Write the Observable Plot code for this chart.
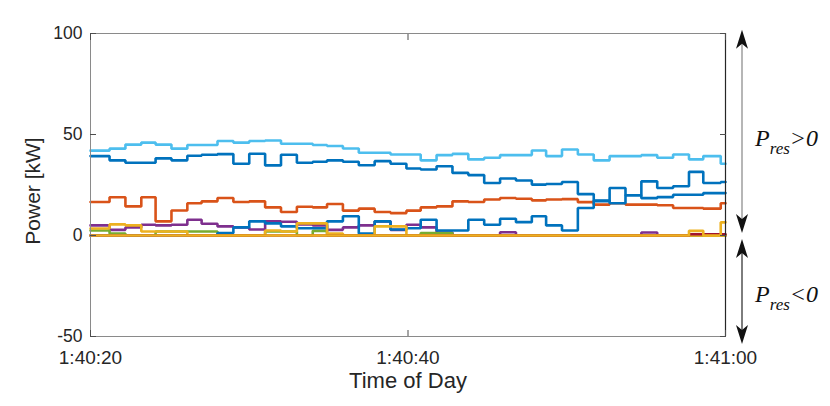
<!DOCTYPE html>
<html>
<head>
<meta charset="utf-8">
<script src="https://cdn.jsdelivr.net/npm/d3@7"></script>
<script src="https://cdn.jsdelivr.net/npm/@observablehq/plot@0.6"></script>
<style>
  body { margin: 0; background: #fff; }
  #chart svg { overflow: visible; }
</style>
</head>
<body>
<div id="chart"></div>
<script>
// Step start times (seconds after 1:40:20)
const stepSeconds = [0, 1.2, 2.2, 3.2, 4.1, 5.1, 6.1, 7.0, 8.0, 9.0, 10.0, 11.0, 12.0, 13.0, 14.0,
  14.9, 15.9, 16.9, 17.9, 18.9, 19.9, 20.8, 21.8, 22.8, 23.8, 24.8, 25.8, 26.8, 27.8, 28.7,
  29.7, 30.7, 31.7, 32.7, 33.7, 34.7, 35.7, 36.7, 37.7, 38.6, 39.7];
const endSecond = 40;

// Power values [kW] per step
const blue1 = [39.3, 37.2, 36, 36, 38.2, 37.2, 39.5, 40, 40.3, 35.5, 40.5, 34.7, 40, 36, 36.5,
  37.2, 36.5, 34.8, 36.8, 35.5, 33.2, 32.7, 34.3, 31, 29.9, 26, 28.2, 27.2, 25.2, 25.5,
  26.5, 20.5, 17, 23.5, 19.9, 26.8, 23.5, 24.4, 31.5, 26, 26.5];
const orange = [16.6, 18.9, 14.4, 18.9, 7, 12.4, 16, 16.9, 18.6, 16.6, 16.9, 13.9, 11.6, 14.2, 13.9,
  15.6, 12.3, 13.3, 11.6, 11.1, 12.3, 13.9, 14.4, 16.9, 16.6, 17.8, 18.6, 18.2, 17.4, 17.8,
  18, 16.5, 15.3, 16, 15.3, 15.3, 15, 13.6, 13.6, 13.3, 16];
const yellowA = [3.5, 5.5, 5, 2, 2, 2, 0, 0, 0, 0, 0, 2.5, 2, 6, 6,
  1, 0, 0, 4.5, 4.5, 0, 0, 0, 0, 0, 0, 0, 0, 0, 0,
  0, 0, 0, 0, 0, 0, 0, 0, 0, 0, 0];
const purple = [5, 2.8, 4, 5.3, 5, 5.3, 7.8, 5.8, 4.5, 4, 3, 7, 6.8, 5.5, 5,
  2.8, 4, 5, 7, 2.8, 5.3, 4, 1.5, 0, 0, 0, 1.6, 0, 0, 0,
  0, 0, 0, 0, 0, 1.5, 0, 0, 0, 0, 0];
const green = [2.5, 1, 0, 0, 2, 2, 2, 2, 0, 0, 0, 2, 2, 0, 2.3,
  0, 0, 0, 0, 0, 0, 1.2, 1.2, 0, 0, 0, 0, 0, 0, 0,
  0, 0, 0, 0, 0, 0, 0, 0, 0, 0, 0];
const lightBlue = [42, 43, 45, 46, 45, 43, 44.8, 44.8, 46.8, 46, 46.8, 47, 45.4, 45.4, 44.8,
  44.3, 43.1, 41, 41, 40.1, 40.1, 37.2, 39.8, 40.4, 37.7, 38.5, 39.8, 39.8, 42.1, 39.3,
  42.6, 40.1, 37.2, 39.3, 39.3, 39.8, 38.5, 40.1, 37.7, 39.3, 35.5];
const darkRed = [0, 0, 0, 0, 0, 0, 0, 0, 0, 0, 0, 0, 0, 0, 0,
  0, 0, 0, 0, 0, 0, 0, 0, 0, 0, 0, 0, 0, 0, 0,
  0, 0, 0, 0, 0, 0, 0, 0, 0.6, 0.6, 0.6];
const blue2 = [0, 0, 0, 0, 0, 0, 0, 0, 1.2, 4, 7, 6, 4.5, 3.6, 3.6,
  7, 9.5, 1, 7, 3, 3.6, 7.8, 2.5, 2.5, 7.8, 5.3, 8.3, 6.6, 9.5, 5,
  2.5, 13.6, 17.3, 16, 19.9, 18.5, 19, 20.2, 20.2, 21, 21];
const yellowB = [0, 0, 0, 0, 0, 0, 0, 0, 0, 0, 0, 0, 0, 0, 0,
  0, 0, 0, 0, 0, 0, 0, 0, 0, 0, 0, 0, 0, 0, 0,
  0, 0, 0, 0, 0, 0, 0, 0, 2.3, 0, 6.5];

// Axis ticks
const xTickSeconds = [0, 20, 40];
const xTickLabels = ["1:40:20", "1:40:40", "1:41:00"];
const yTicks = [-50, 0, 50, 100];
const yTickLabels = ["-50", "0", "50", "100"];
const yDomain = [-50, 100];

// Annotations (value ranges of the double arrows, label positions)
const arrowSpans = [[101.6, 1], [-2, -54]];
const arrowLabels = [{value: 44, op: ">0"}, {value: -33, op: "<0"}];

const t0 = Date.UTC(2000, 0, 1, 1, 40, 20);
const at = s => new Date(t0 + s * 1000);

function rows(values) {
  const r = stepSeconds.map((s, i) => ({t: at(s), v: values[i]}));
  r.push({t: at(endSecond), v: values[values.length - 1]});
  return r;
}

// drawing order
const series = [
  [blue1, "#0072BD"],
  [orange, "#D95319"],
  [purple, "#7E2F8E"],
  [green, "#77AC30"],
  [blue2, "#0072BD"],
  [lightBlue, "#4DBEEE"],
  [yellowA, "#EDB120"],
  [darkRed, "#A2142F"],
  [yellowB, "#EDB120"]
];

const W = 830, H = 406;
const mL = 90, mR = 105, mT = 33, mB = 70;
const xTicks = xTickSeconds.map(at);
const fmtX = d => xTickLabels[xTickSeconds.indexOf(Math.round((d - t0) / 1000))];
const fmtY = d => yTickLabels[yTicks.indexOf(d)];
const tickColor = "#4d4d4d";

const plot = Plot.plot({
  width: W,
  height: H,
  marginLeft: mL,
  marginRight: mR,
  marginTop: mT,
  marginBottom: mB,
  style: {fontFamily: "'Liberation Sans', Arial, sans-serif", color: "#262626", background: "#fff"},
  x: {type: "utc", domain: [at(0), at(endSecond)]},
  y: {domain: yDomain},
  marks: [
    ...series.map(([vals, color]) => Plot.line(rows(vals), {
      x: "t", y: "v", stroke: color, strokeWidth: 2.6, curve: "step-after", strokeLinejoin: "miter"
    })),
    Plot.frame({stroke: "#8a8a8a", strokeWidth: 1}),
    Plot.ruleX([at(endSecond)], {stroke: "#262626", strokeWidth: 1.2}),
    // tick marks pointing inward
    Plot.axisY({ticks: yTicks, anchor: "left", tickSize: 6, dx: 6, tickFormat: () => "", stroke: tickColor, label: null}),
    Plot.axisY({ticks: yTicks, anchor: "right", tickSize: 6, dx: -6, tickFormat: () => "", stroke: tickColor, label: null}),
    Plot.axisX({ticks: xTicks, anchor: "bottom", tickSize: 6, dy: -6, tickFormat: () => "", stroke: tickColor, label: null}),
    Plot.axisX({ticks: xTicks, anchor: "top", tickSize: 6, dy: 6, tickFormat: () => "", stroke: tickColor, label: null}),
    // tick labels
    Plot.axisY({ticks: yTicks, anchor: "left", tickSize: 0, tickPadding: 8, fontSize: 17.5, tickFormat: fmtY, label: null, fill: "#262626"}),
    Plot.axisX({ticks: xTicks, anchor: "bottom", tickSize: 0, tickPadding: 14, fontSize: 19, tickFormat: fmtX, label: null, fill: "#262626"}),
    // axis titles
    Plot.text(["Power [kW]"], {frameAnchor: "left", dx: -57, dy: 6, rotate: -90, fontSize: 21, fill: "#262626", textAnchor: "middle"}),
    Plot.text(["Time of Day"], {frameAnchor: "bottom", dy: 51, fontSize: 22, fill: "#262626", textAnchor: "middle"})
  ]
});

document.getElementById("chart").appendChild(plot);

// Right-hand annotations: double arrows with P_res labels, positioned via the y scale
const yS = plot.scale("y");
const ax = W - mR + 17;
const svg = d3.select(plot);
const g = svg.append("g").attr("text-anchor", "start");
const head = "M0,0 L6,19 L0,14 L-6,19 Z";
arrowSpans.forEach(([a, b], i) => {
  const y1 = yS.apply(a), y2 = yS.apply(b);
  g.append("line").attr("x1", ax).attr("x2", ax).attr("y1", y1 + 12).attr("y2", y2 - 12)
    .attr("stroke", i === 0 ? "#8f8f8f" : "#6f6f6f").attr("stroke-width", i === 0 ? 1.3 : 1.8);
  g.append("path").attr("d", head).attr("transform", `translate(${ax},${y1})`).attr("fill", "#111");
  g.append("path").attr("d", head).attr("transform", `translate(${ax},${y2}) rotate(180)`).attr("fill", "#111");
});
arrowLabels.forEach(({value, op}) => {
  const t = g.append("text")
    .attr("x", ax + 13).attr("y", yS.apply(value))
    .attr("text-anchor", "start")
    .attr("font-family", "'Liberation Serif', 'Times New Roman', serif")
    .attr("font-style", "italic").attr("font-size", 24).attr("fill", "#111");
  t.append("tspan").text("P");
  t.append("tspan").attr("dy", 8).attr("font-size", 17).text("res");
  t.append("tspan").attr("dy", -8).attr("font-size", 24).text(op);
});
</script>
</body>
</html>
